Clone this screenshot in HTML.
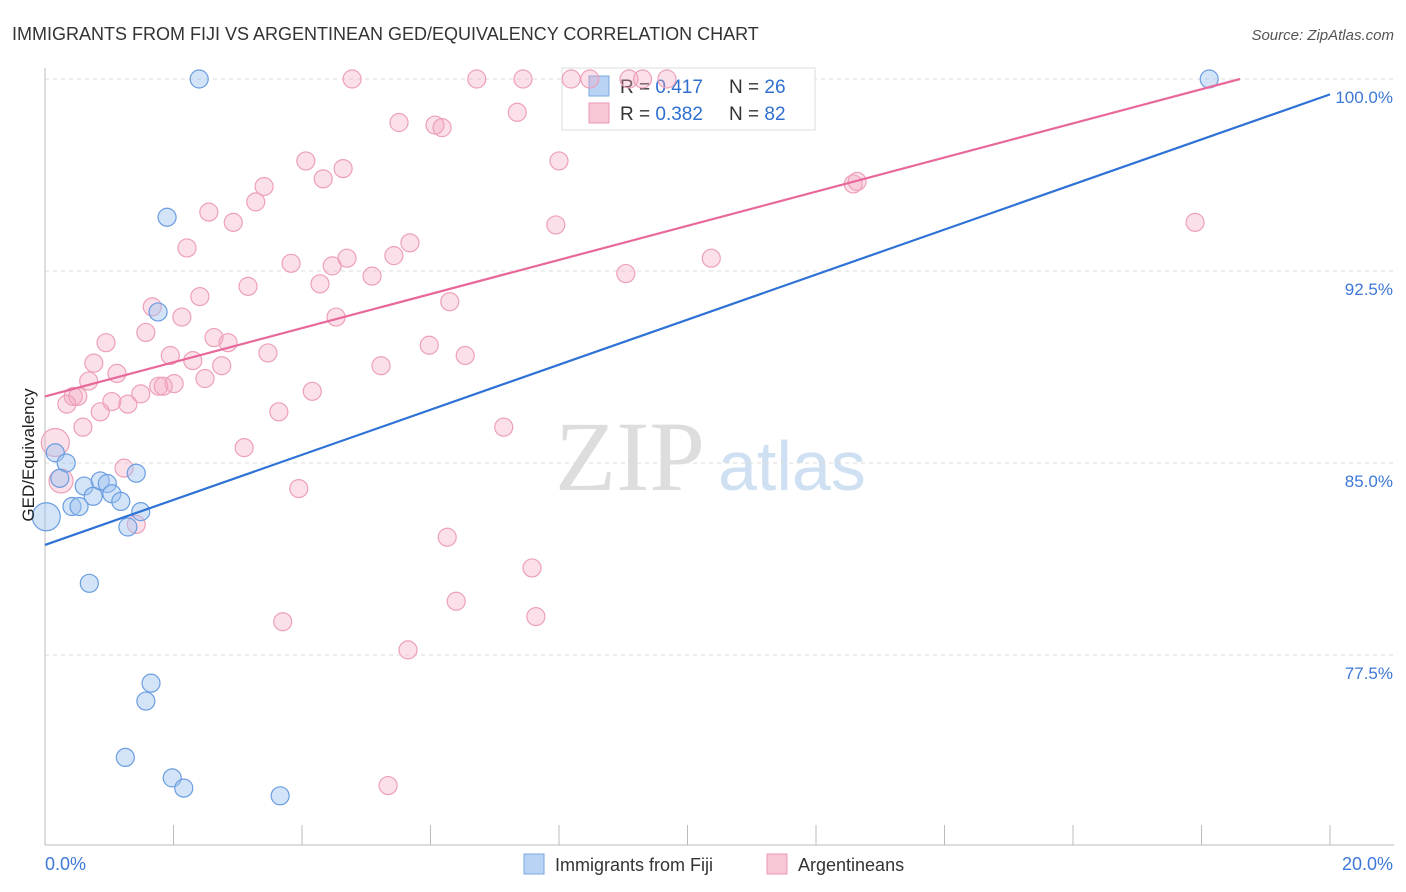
<!DOCTYPE html>
<html><head><meta charset="utf-8"><style>
body{margin:0;background:#fff;font-family:"Liberation Sans",sans-serif}
svg{display:block}
</style></head><body>
<svg id="chart" width="1406" height="892">
<text x="12" y="40" font-size="18" fill="#333">IMMIGRANTS FROM FIJI VS ARGENTINEAN GED/EQUIVALENCY CORRELATION CHART</text>
<text x="1394" y="40" font-size="15" fill="#555" font-style="italic" text-anchor="end">Source: ZipAtlas.com</text>
<text x="555" y="490" font-size="100" fill="#ddd" font-family="Liberation Serif,serif">ZIP</text>
<text x="718" y="490" font-size="70" fill="#cfe0f3">atlas</text>
<g id="grid"></g>
<g id="axes"></g>
<g>
<rect x="562" y="68" width="253" height="62" fill="#fff" stroke="#ddd"/>
<rect x="589" y="76" width="20" height="20" fill="#b9d3f5" stroke="#7aa7e0"/>
<rect x="589" y="103" width="20" height="20" fill="#f8c7d6" stroke="#eb9ab4"/>
<text x="620" y="93" font-size="19" fill="#333">R = <tspan fill="#2f6fd0">0.417</tspan></text>
<text x="729" y="93" font-size="19" fill="#333">N = <tspan fill="#2f6fd0">26</tspan></text>
<text x="620" y="120" font-size="19" fill="#333">R = <tspan fill="#2f6fd0">0.382</tspan></text>
<text x="729" y="120" font-size="19" fill="#333">N = <tspan fill="#2f6fd0">82</tspan></text>
</g>
<g id="pinkPts"></g>
<g id="bluePts"></g>
<g id="lines"></g>
<text transform="translate(34,455) rotate(-90)" font-size="17" fill="#222" text-anchor="middle">GED/Equivalency</text>
<g>
<rect x="524" y="854" width="20" height="20" fill="#b9d3f5" stroke="#7aa7e0"/>
<text x="555" y="871" font-size="18" fill="#333">Immigrants from Fiji</text>
<rect x="767" y="854" width="20" height="20" fill="#f8c7d6" stroke="#eb9ab4"/>
<text x="798" y="871" font-size="18" fill="#333">Argentineans</text>
</g>
</svg>
<script>
const xTicks=[0,2,4,6,8,10,12,14,16,18,20];
const yTicks=[77.5,85,92.5,100];
const yTickLabels=["77.5%","85.0%","92.5%","100.0%"];
const fijiX=[2.4,1.9,1.76,18.12,0.16,0.33,0.23,0.61,0.86,0.97,0.75,1.04,1.18,1.42,0.42,0.53,1.49,1.29,0.02,0.69,1.65,1.57,1.25,1.98,2.16,3.66];
const fijiY=[100,94.6,90.9,100,85.4,85.0,84.4,84.1,84.3,84.2,83.7,83.8,83.5,84.6,83.3,83.3,83.1,82.5,82.9,80.3,76.4,75.7,73.5,72.7,72.3,72.0];
const fijiR=[9,9,9,9,9,9,9,9,9,9,9,9,9,9,9,9,9,9,14,9,9,9,9,9,9,9];
const argX=[4.78,6.72,7.44,8.19,9.09,9.68,5.51,7.35,6.07,6.18,4.06,8.0,4.64,4.33,3.41,3.28,2.55,2.93,7.95,2.21,5.68,5.43,4.7,10.37,3.83,4.47,9.04,5.09,4.28,3.16,2.41,6.3,1.67,2.13,4.53,1.57,2.63,2.85,0.95,5.98,3.47,1.95,6.54,0.76,2.3,2.75,5.23,1.12,2.49,0.68,2.01,1.77,1.84,4.16,0.44,0.51,1.49,0.34,1.04,1.29,0.86,3.64,0.59,7.14,0.16,3.1,1.23,0.25,3.95,1.42,6.26,7.58,6.4,7.64,3.7,5.65,5.34,12.58,12.64,17.9,8.48,9.3];
const argY=[100,100,100,100,100,100,98.3,98.7,98.2,98.1,96.8,96.8,96.5,96.1,95.8,95.2,94.8,94.4,94.3,93.4,93.6,93.1,93.0,93.0,92.8,92.7,92.4,92.3,92.0,91.9,91.5,91.3,91.1,90.7,90.7,90.1,89.9,89.7,89.7,89.6,89.3,89.2,89.2,88.9,89.0,88.8,88.8,88.5,88.3,88.2,88.1,88.0,88.0,87.8,87.6,87.6,87.7,87.3,87.4,87.3,87.0,87.0,86.4,86.4,85.8,85.6,84.8,84.3,84.0,82.6,82.1,80.9,79.6,79.0,78.8,77.7,72.4,95.9,96.0,94.4,100,100];
const argR=[9,9,9,9,9,9,9,9,9,9,9,9,9,9,9,9,9,9,9,9,9,9,9,9,9,9,9,9,9,9,9,9,9,9,9,9,9,9,9,9,9,9,9,9,9,9,9,9,9,9,9,9,9,9,9,9,9,9,9,9,9,9,9,9,14,9,9,12,9,9,9,9,9,9,9,9,9,9,9,9,9,9];
const fijiLine=[0,81.8,20,99.4];
const argLine=[0,87.6,18.6,100];
const X0=45,X1=1330,Y0=79,PX_PER_PCT=25.6;
const sx=v=>X0+(X1-X0)*v/20;
const sy=v=>Y0+(100-v)*PX_PER_PCT;
const NS="http://www.w3.org/2000/svg";
function mk(tag,attrs,parent){const e=document.createElementNS(NS,tag);for(const k in attrs)e.setAttribute(k,attrs[k]);parent.appendChild(e);return e;}
const grid=document.getElementById('grid'),axes=document.getElementById('axes');
yTicks.forEach((t,i)=>{
 const g=mk('line',{x1:45,x2:1394,y1:sy(t),y2:sy(t),stroke:'#ddd','stroke-dasharray':'4,4'},grid);
 
 
 const tx=mk('text',{x:1393,y:sy(t)+24,'font-size':17,fill:'#3d78d8','text-anchor':'end'},axes);
 tx.textContent=yTickLabels[i];
 
 
});
const xa=mk('line',{x1:45,x2:1394,y1:845,y2:845,stroke:'#bbb'},axes);


const ya=mk('line',{x1:45,x2:45,y1:68,y2:845,stroke:'#bbb'},axes);


xTicks.forEach(t=>{
 const l=mk('line',{x1:sx(t),x2:sx(t),y1:825,y2:845,stroke:'#bbb'},axes);
 
 
});
const xl0=mk('text',{x:45,y:870,'font-size':18,fill:'#3d78d8'},axes);xl0.textContent='0.0%';


const xl1=mk('text',{x:1393,y:870,'font-size':18,fill:'#3d78d8','text-anchor':'end'},axes);xl1.textContent='20.0%';


const pg=document.getElementById('pinkPts');
argX.forEach((x,i)=>{
 const c=mk('circle',{cx:sx(x),cy:sy(argY[i]),r:argR[i],fill:'rgba(244,166,192,0.35)',stroke:'#eda0b8','stroke-width':1.2},pg);
 
 
});
const bg=document.getElementById('bluePts');
fijiX.forEach((x,i)=>{
 const c=mk('circle',{cx:sx(x),cy:sy(fijiY[i]),r:fijiR[i],fill:'rgba(160,196,240,0.45)',stroke:'#6a9de0','stroke-width':1.2},bg);
 
 
});
const lg=document.getElementById('lines');
const l1=mk('line',{x1:sx(fijiLine[0]),y1:sy(fijiLine[1]),x2:sx(fijiLine[2]),y2:sy(fijiLine[3]),stroke:'#2f72d6','stroke-width':2.2},lg);


const l2=mk('line',{x1:sx(argLine[0]),y1:sy(argLine[1]),x2:sx(argLine[2]),y2:sy(argLine[3]),stroke:'#e8689a','stroke-width':2.2},lg);


</script>
</body></html>
